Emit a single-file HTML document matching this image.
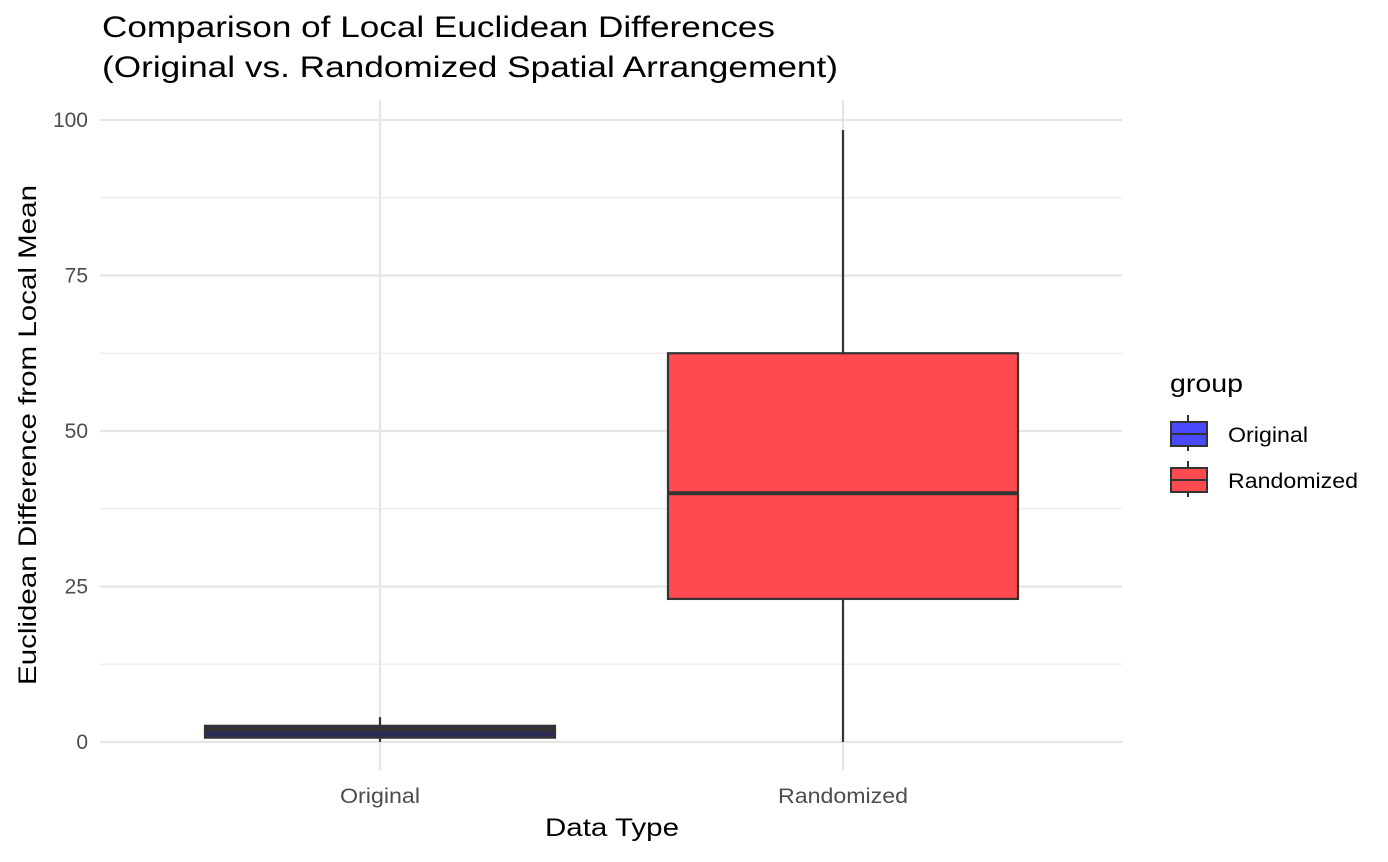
<!DOCTYPE html>
<html><head><meta charset="utf-8"><style>
body{margin:0;background:#fff;font-family:"Liberation Sans",sans-serif}
</style></head><body>
<svg width="1388" height="857" xmlns="http://www.w3.org/2000/svg" font-family="Liberation Sans, sans-serif">
<g id="grid"></g>
<g id="boxes"></g>
<g id="axes"></g>
<text x="102" y="37" font-size="30" textLength="673" lengthAdjust="spacingAndGlyphs" fill="#000">Comparison of Local Euclidean Differences</text>
<text x="102" y="77" font-size="30" textLength="736" lengthAdjust="spacingAndGlyphs" fill="#000">(Original vs. Randomized Spatial Arrangement)</text>
<text x="545" y="836" font-size="25" textLength="134" lengthAdjust="spacingAndGlyphs" fill="#000">Data Type</text>
<text transform="translate(36,685) rotate(-90)" font-size="25" textLength="500" lengthAdjust="spacingAndGlyphs" fill="#000">Euclidean Difference from Local Mean</text>
<g>
<text x="1170" y="392" font-size="25" textLength="73" lengthAdjust="spacingAndGlyphs" fill="#000">group</text>
<g>
<line x1="1188" y1="415" x2="1188" y2="451" stroke="#333" stroke-width="2"/>
<rect x="1171" y="422" width="36" height="24" fill="#4a4aff" stroke="#333" stroke-width="2"/>
<line x1="1171" y1="434" x2="1207" y2="434" stroke="#333" stroke-width="2"/>
<text x="1228" y="442" font-size="21" textLength="80" lengthAdjust="spacingAndGlyphs" fill="#000">Original</text></g>
<g>
<line x1="1188" y1="461" x2="1188" y2="497" stroke="#333" stroke-width="2"/>
<rect x="1171" y="468" width="36" height="24" fill="#ff4a4f" stroke="#333" stroke-width="2"/>
<line x1="1171" y1="480" x2="1207" y2="480" stroke="#333" stroke-width="2"/>
<text x="1228" y="488" font-size="21" textLength="130" lengthAdjust="spacingAndGlyphs" fill="#000">Randomized</text></g>
</g>
</svg>
<script>
const categories=["Original","Randomized"];
const mins=[0,0];
const q1s=[0.7,23];
const medians=[2.0,40];
const q3s=[2.6,62.5];
const maxs=[4.0,98.4];
const fills=["#2a2a55","#ff4a4f"];
const yTicks=[0,25,50,75,100];
const NS="http://www.w3.org/2000/svg";
const y=v=>742-v*6.22;
const x=i=>380+i*463;
const bw=350;
function el(t,a,p){const e=document.createElementNS(NS,t);for(const k in a)e.setAttribute(k,a[k]);p.appendChild(e);return e;}
const g=document.getElementById('grid'),b=document.getElementById('boxes'),ax=document.getElementById('axes');
for(let i=0;i<yTicks.length-1;i++){const l=el('line',{x1:100,x2:1122,y1:y((yTicks[i]+yTicks[i+1])/2),y2:y((yTicks[i]+yTicks[i+1])/2),stroke:'#ebebeb','stroke-width':1.2},g);

}
yTicks.forEach(v=>{const l=el('line',{x1:100,x2:1122,y1:y(v),y2:y(v),stroke:'#e5e5e5','stroke-width':2.2},g);


const t=el('text',{x:88,y:y(v)+7,'font-size':21,fill:'#4d4d4d','text-anchor':'end'},ax);t.textContent=v;

});
const xw=[80,130];
categories.forEach((c,i)=>{const l=el('line',{x1:x(i),x2:x(i),y1:100,y2:770,stroke:'#e5e5e5','stroke-width':2.2},g);


const t=el('text',{x:x(i)-xw[i]/2,y:803,'font-size':21,fill:'#4d4d4d',textLength:xw[i],lengthAdjust:'spacingAndGlyphs'},ax);t.textContent=c;


const grp=el('g',{},b);


el('line',{x1:x(i),x2:x(i),y1:y(maxs[i]),y2:y(q3s[i]),stroke:'#333','stroke-width':2.2},grp);
el('line',{x1:x(i),x2:x(i),y1:y(q1s[i]),y2:y(mins[i]),stroke:'#333','stroke-width':2.2},grp);
el('rect',{x:x(i)-bw/2,y:y(q3s[i]),width:bw,height:y(q1s[i])-y(q3s[i]),fill:fills[i],stroke:'#333','stroke-width':2.2},grp);
el('line',{x1:x(i)-bw/2,x2:x(i)+bw/2,y1:y(medians[i]),y2:y(medians[i]),stroke:'#333','stroke-width':4},grp);
});
</script>
</body></html>
